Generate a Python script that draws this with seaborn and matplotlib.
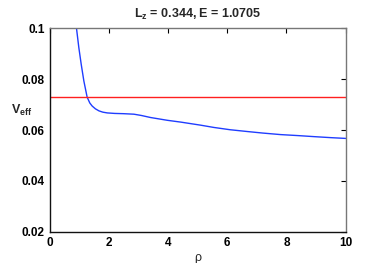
import numpy as np
import pandas as pd
import matplotlib
matplotlib.use("Agg")
import matplotlib.pyplot as plt
import seaborn as sns

# effective potential
rho = [0.88, 0.91, 0.99, 1.07, 1.16, 1.27, 1.36, 1.44, 1.55, 1.67, 1.80, 1.95,
       2.20, 2.50, 2.85, 3.10, 3.41, 3.98, 4.43, 5.10, 5.55, 6.10, 6.68, 7.20,
       7.80, 8.40, 8.93, 9.50, 10.0]
v_eff = [0.1030, 0.1000, 0.0923, 0.0858, 0.0792, 0.0729, 0.0706, 0.0694, 0.0683,
         0.0675, 0.0670, 0.0667, 0.0665, 0.0664, 0.0662, 0.0657, 0.0649, 0.0638,
         0.0631, 0.0619, 0.0610, 0.0601, 0.0594, 0.0588, 0.0582, 0.0578, 0.0574,
         0.0570, 0.0567]
energy_level = 0.0730
x_ticks = [0, 2, 4, 6, 8, 10]
y_ticks = [0.02, 0.04, 0.06, 0.08, 0.1]

sns.set_style("white")
plt.rcParams['font.family'] = ['Liberation Sans', 'DejaVu Sans']
plt.rcParams['mathtext.fontset'] = 'custom'
plt.rcParams['mathtext.rm'] = 'Liberation Sans:bold'
plt.rcParams['mathtext.it'] = 'Liberation Sans:bold'
plt.rcParams['mathtext.bf'] = 'Liberation Sans:bold'

df = pd.DataFrame({'rho': rho, 'V': v_eff})

fig = plt.figure(figsize=(3.82, 2.63), dpi=100)
ax = fig.add_axes([0.1296, 0.1179, 0.7754, 0.7756])

sns.lineplot(data=df, x='rho', y='V', ax=ax, color='#1f3dff', linewidth=1.0)
ax.axhline(energy_level, color='#ff2020', linewidth=1.0)

ax.set_xlim(0, 10)
ax.set_ylim(0.02, 0.1)
ax.set_xticks(x_ticks)
ax.set_yticks(y_ticks)
ax.set_xticklabels([str(t) for t in x_ticks])
ax.set_yticklabels(['0.02', '0.04', '0.06', '0.08', '0.1'])
ax.tick_params(direction='in', length=3.5, width=0.8, top=True, right=True,
               labelsize=8.5, pad=3.5, colors='black')
for lab in ax.get_xticklabels() + ax.get_yticklabels():
    lab.set_fontweight('bold')
for side in ['left', 'bottom']:
    ax.spines[side].set_color('#111111')
    ax.spines[side].set_linewidth(1.0)
for side in ['top', 'right']:
    ax.spines[side].set_color('#777777')
    ax.spines[side].set_linewidth(1.0)

ax.set_xlabel('ρ', fontsize=9, labelpad=2)
ax.set_ylabel(r'V$_{\mathrm{eff}}$', fontsize=9, fontweight='bold', rotation=0,
              labelpad=14)
ax.yaxis.set_label_coords(-0.095, 0.56)
ax.set_title(r'L$_{\mathrm{z}}$ = 0.344, E = 1.0705', fontsize=9,
             fontweight='bold', pad=7)

fig.savefig('out.png', dpi=100)
